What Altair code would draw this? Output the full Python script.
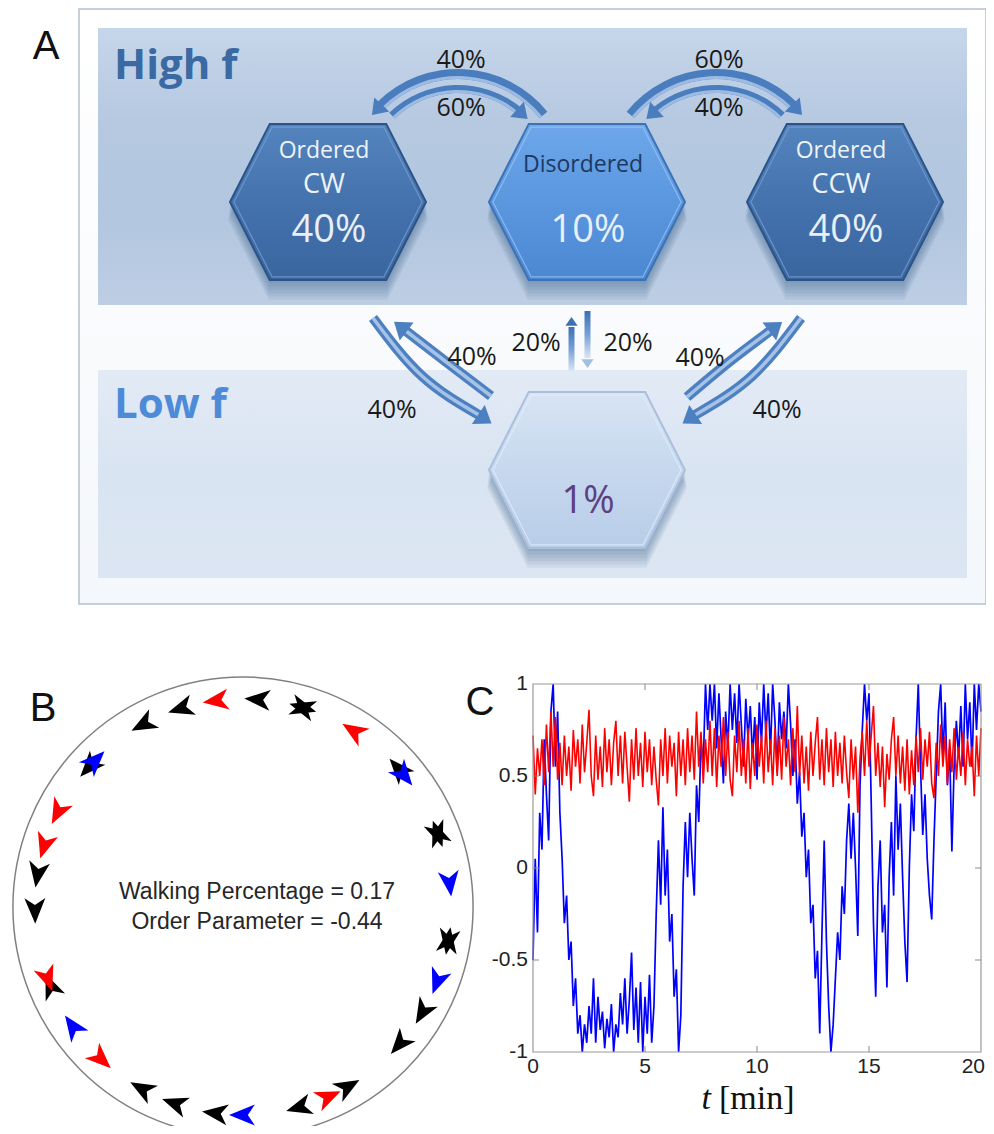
import math
import altair as alt
import pandas as pd

# ======================= DATA =======================
# Panel A - states and their occupancy
state_key = ["cw", "dis", "ccw", "low"]
state_line1 = ["Ordered", "Disordered", "Ordered", ""]
state_line2 = ["CW", "", "CCW", ""]
state_pct = ["40%", "10%", "40%", "1%"]
regime_names = ["High f", "Low f"]
# transitions inside High f: left pair (CW<->Dis), right pair (Dis<->CCW)
arc_outer_pct = ["40%", "60%"]
arc_inner_pct = ["60%", "40%"]
# transitions between High f and Low f, left to right
cross_pct = ["40%", "40%", "20%", "20%", "40%", "40%"]
panel_letters = ["A", "B", "C"]

# Panel B - agents on the ring: angular position (deg), colour, heading sense
agent_pos_deg = [118.5, 107.2, 97.3, 85.8, 73.3, 73.3, 57.7, 41.5, 39.5, 20.6,
                 20.6, 6.7, -9.4, -9.4, -20.8, -30.2, -41.0, -59.9, -65.9, -74.2,
                 -90.0, -97.5, -109.0, -118.9, -133.2, -144.8, -157.5, -160.0, -179.2, 170.8,
                 162.7, 152.7, 137.5, 135.5]
agent_color = ["black", "black", "red", "black", "black", "black", "red", "black", "blue", "black",
               "black", "blue", "black", "black", "blue", "black", "black", "black", "red", "black",
               "blue", "black", "black", "black", "red", "blue", "black", "red", "black", "black",
               "red", "red", "black", "blue"]
agent_dir = ["ccw", "ccw", "ccw", "ccw", "ccw", "cw", "ccw", "ccw", "cw", "ccw",
             "cw", "cw", "ccw", "cw", "cw", "cw", "cw", "ccw", "ccw", "cw",
             "cw", "cw", "cw", "cw", "ccw", "cw", "cw", "ccw", "ccw", "ccw",
             "ccw", "ccw", "ccw", "cw"]
walking_pct = 0.17
order_param = -0.44

# Panel C - time series sampled every 0.1 min
c_dt = 0.1
blue_vals = [
    -0.50, 0.05, -0.35, 0.30, 0.10, 0.70, 0.40, 0.15, 0.85, 1.00,
    0.55, 0.85, 0.30, 0.05, -0.30, -0.15, -0.50, -0.40, -0.75, -0.60,
    -0.90, -0.80, -1.00, -0.85, -0.95, -0.75, -0.90, -0.60, -0.95, -0.70,
    -0.88, -0.78, -0.98, -0.82, -0.92, -0.74, -1.00, -0.85, -0.92, -0.68,
    -0.85, -0.60, -0.90, -0.72, -0.46, -0.88, -0.65, -0.95, -0.62, -1.00,
    -0.70, -0.90, -0.58, -0.95, -0.75, -0.25, 0.15, -0.20, 0.33, -0.15,
    0.10, -0.40, -0.25, -0.70, -0.55, -1.00, -0.80, -0.10, 0.25, -0.05,
    0.30, 0.05, -0.15, 0.45, 0.25, 0.70, 0.55, 1.00, 0.75, 1.00,
    0.80, 1.00, 0.65, 0.95, 0.70, 0.46, 0.85, 0.65, 1.00, 0.75,
    0.95, 0.68, 1.00, 0.78, 0.55, 0.92, 0.70, 0.88, 0.60, 0.82,
    0.48, 0.90, 0.68, 1.00, 0.72, 0.95, 0.62, 1.00, 0.80, 0.52,
    0.90, 0.70, 0.85, 0.65, 1.00, 0.78, 0.50, 0.70, 0.35, 0.52,
    0.17, 0.30, -0.05, 0.10, -0.30, -0.20, -0.60, -0.45, -0.90, -0.35,
    0.15, -0.40, -0.75, -1.00, -0.85, -0.60, -0.35, -0.50, -0.10, -0.25,
    0.15, 0.35, 0.05, 0.30, 0.00, -0.37, 0.45, 0.75, 1.00, 0.80,
    0.95, 0.35, -0.30, -0.70, -0.10, 0.15, -0.35, -0.20, -0.65, -0.05,
    0.25, -0.15, 0.50, 0.10, 0.35, -0.05, -0.40, -0.62, 0.00, 0.40,
    0.20, 0.70, 1.00, 0.55, 0.18, 0.40, 0.05, -0.15, -0.28, 0.15,
    0.50, 0.85, 1.00, 0.60, 0.90, 0.45, 0.65, 0.09, 0.55, 0.80,
    0.60, 0.88, 0.55, 1.00, 0.70, 0.90, 0.55, 1.00, 0.75, 1.00,
    0.85]
red_vals = [
    0.72, 0.40, 0.65, 0.50, 0.70, 0.45, 0.78, 0.52, 0.85, 0.55,
    0.82, 0.48, 0.68, 0.45, 0.72, 0.50, 0.66, 0.42, 0.75, 0.55,
    0.70, 0.46, 0.78, 0.52, 0.68, 0.86, 0.50, 0.39, 0.72, 0.48,
    0.66, 0.44, 0.76, 0.52, 0.70, 0.45, 0.68, 0.80, 0.50, 0.72,
    0.46, 0.74, 0.55, 0.36, 0.70, 0.48, 0.76, 0.50, 0.68, 0.44,
    0.74, 0.52, 0.70, 0.45, 0.66, 0.48, 0.34, 0.70, 0.50, 0.76,
    0.46, 0.72, 0.55, 0.68, 0.39, 0.74, 0.50, 0.70, 0.45, 0.76,
    0.52, 0.72, 0.48, 0.85, 0.55, 0.74, 0.46, 0.70, 0.52, 0.80,
    0.50, 0.76, 0.44, 0.72, 0.55, 0.82, 0.50, 0.74, 0.48, 0.39,
    0.72, 0.52, 0.80, 0.50, 0.70, 0.46, 0.76, 0.43, 0.68, 0.50,
    0.78, 0.55, 0.72, 0.46, 0.80, 0.52, 0.70, 0.45, 0.76, 0.50,
    0.72, 0.48, 0.82, 0.55, 0.70, 0.45, 0.76, 0.52, 0.88, 0.50,
    0.72, 0.46, 0.66, 0.42, 0.74, 0.50, 0.68, 0.82, 0.48, 0.70,
    0.45, 0.76, 0.52, 0.70, 0.44, 0.74, 0.50, 0.68, 0.46, 0.72,
    0.52, 0.38, 0.70, 0.48, 0.66, 0.30, 0.60, 0.74, 0.50, 0.80,
    0.55, 0.72, 0.88, 0.50, 0.68, 0.44, 0.66, 0.33, 0.62, 0.48,
    0.70, 0.82, 0.50, 0.72, 0.46, 0.66, 0.42, 0.70, 0.40, 0.64,
    0.45, 0.72, 0.52, 0.76, 0.48, 0.70, 0.55, 0.74, 0.46, 0.38,
    0.68, 0.50, 0.78, 0.55, 0.72, 0.46, 0.70, 0.52, 0.76, 0.48,
    0.66, 0.50, 0.74, 0.45, 0.70, 0.55, 0.66, 0.39, 0.72, 0.50,
    0.76]
c_xticks = [0, 5, 10, 15, 20]
c_yticks = [1, 0.5, 0, -0.5, -1]
c_xtitle = ["t", "[min]"]

# ======================= LAYOUT / STYLE (page pixels) =======================
PAD = 8
W, H = 978, 1118
SX = alt.Scale(domain=[PAD, PAD + W], range=[0, W])
SY = alt.Scale(domain=[PAD, PAD + H], range=[0, H])
FONT = "Open Sans"
SANS = "Liberation Sans"
SERIF = "Liberation Serif"
COLORS = {"black": "#000000", "red": "#ff0000", "blue": "#0000ff"}

NODE_XY = {"cw": (328, 202), "dis": (587, 202), "ccw": (845, 202), "low": (587, 470)}
HEX_HALF = 98
HEX = "M-1,0L-0.594,-0.797L0.594,-0.797L1,0L0.594,0.797L-0.594,0.797Z"
LINE1_DY = {"cw": -51, "dis": -37, "ccw": -51, "low": 0}
LINE2_DY = -17
PCT_DY = {"cw": 29, "dis": 29, "ccw": 29, "low": 32}

ARC_C = [(458, 184), (716, 184)]
OUTER_R = (105, 115)
INNER_R = (91, 99)
ARC_OUTER = [(-44.5, 51, -47), (-51, 44.5, 47)]
ARC_INNER = [(-44, 39.5, 42), (-39.5, 44, -42)]
ARC_LABEL_Y = (60, 108)
HEAD = "M0,-0.8L1,0.6L-1,0.6Z"

DIAG = [
    [(373, 318), (422, 376), (479, 415)],
    [(491, 396), (445, 361), (406, 331)],
    [(687, 397), (729, 362), (770, 331)],
    [(801, 318), (752, 376), (695, 415)],
]
VERT = [(571.5, 371, 327), (587.5, 311, 358)]
CROSS_XY = [(392, 410), (472, 357), (536, 343), (628, 343), (700, 358), (777, 410)]
REGIME_XY = [(114, 66), (114, 405)]
REGIME_COL = ["#3a69a3", "#4d8bd8"]
LETTER_XY = [(46, 47), (43, 709), (480, 703)]

RING_C = (243, 907)
RING_R = 230
AGENT_R = 208
DART = "M0,-1L0.75,0.85L0,0.35L-0.75,0.85Z"
B_TEXT_XY = [(257, 892), (257, 922)]

CX = alt.Scale(domain=[0, 20], range=[533 - PAD, 981 - PAD])
CY = alt.Scale(domain=[-1, 1], range=[1052 - PAD, 684 - PAD])
XTITLE_XY = [(711, 1099), (719, 1099)]


def vgrad(*cols):
    n = len(cols) - 1
    return {"gradient": "linear", "x1": 0, "y1": 0, "x2": 0, "y2": 1,
            "stops": [{"offset": i / n, "color": c} for i, c in enumerate(cols)]}


def XY():
    return dict(x=alt.X("x:Q", scale=SX, axis=None), y=alt.Y("y:Q", scale=SY, axis=None))


def rect(rows, **mark):
    df = pd.DataFrame(rows, columns=["x", "y", "x2", "y2"])
    return alt.Chart(df).mark_rect(**mark).encode(**XY(), x2="x2:Q", y2="y2:Q")


def texts(rows, **mark):
    df = pd.DataFrame(rows)
    enc = XY()
    enc["text"] = alt.Text("txt:N")
    if "col" in df.columns:
        enc["color"] = alt.Color("col:N", scale=None)
    return alt.Chart(df).mark_text(**mark).encode(**enc)


def symbols(df, filled=True, **mark):
    enc = XY()
    if "hd" in df.columns:
        enc["angle"] = alt.Angle("hd:Q", scale=None)
    if "col" in df.columns:
        enc["color"] = alt.Color("col:N", scale=None)
    return alt.Chart(df).mark_point(filled=filled, opacity=1, **mark).encode(**enc)


def arcs(df, **mark):
    return alt.Chart(df).mark_arc(**mark).encode(
        **XY(),
        theta=alt.Theta("th:Q", scale=None, stack=False), theta2=alt.Theta2("th2:Q"),
        radius=alt.Radius("ro:Q", scale=None), radius2=alt.Radius2("ri:Q"))


L = []
# ---- Panel A background ----
L.append(rect([(79, 9, 986, 604)], fill=vgrad("#ffffff", "#f4f7fb"), stroke="#b4c1d0", strokeWidth=1.5))
L.append(rect([(98, 28, 967, 305)], fill=vgrad("#c6d6ea", "#b6c9e1", "#b2c6df", "#bdcee4")))
L.append(rect([(98, 370, 967, 578)], fill=vgrad("#e2eaf5", "#d9e4f2", "#dce6f3")))

hex_df = pd.DataFrame({"key": state_key,
                       "x": [NODE_XY[k][0] for k in state_key],
                       "y": [NODE_XY[k][1] for k in state_key]})
for dy in [18, 15, 12, 9, 6, 3]:
    L.append(symbols(hex_df.assign(y=hex_df.y + dy), shape=HEX, color="#1e4676",
                     size=(2 * HEX_HALF * (1 + dy / 900)) ** 2, strokeWidth=0, fillOpacity=0.07))
hex_style = {
    "cw": dict(fill=vgrad("#5484be", "#4472ad", "#3a669f"), stroke="#2b5387"),
    "dis": dict(fill=vgrad("#6ea7ea", "#5a97df", "#4c88d2"), stroke="#3c72b6"),
    "ccw": dict(fill=vgrad("#5484be", "#4472ad", "#3a669f"), stroke="#2b5387"),
    "low": dict(fill=vgrad("#d8e4f4", "#c6d8ee", "#b8cde8"), stroke="#a9bfde"),
}
bevel = {"cw": "#7ea3d3", "dis": "#a3c8f3", "ccw": "#7ea3d3", "low": "#e6eef9"}
for k in state_key:
    sub = hex_df[hex_df.key == k]
    L.append(symbols(sub, shape=HEX, size=(2 * HEX_HALF) ** 2, strokeWidth=2, **hex_style[k]))
    L.append(symbols(sub, filled=False, shape=HEX, size=(2 * HEX_HALF - 8) ** 2, strokeWidth=1.2,
                     color=bevel[k], strokeOpacity=0.7))

r1, r2, rp = [], [], []
for k, l1, l2, p in zip(state_key, state_line1, state_line2, state_pct):
    x, y = NODE_XY[k]
    if l1:
        r1.append(dict(x=x - 4, y=y + LINE1_DY[k], txt=l1, col="#1c3963" if k == "dis" else "#eef3fa"))
    if l2:
        r2.append(dict(x=x - 4, y=y + LINE2_DY, txt=l2))
    rp.append(dict(x=x + 1, y=y + PCT_DY[k], txt=p, col="#5d4080" if k == "low" else "#e9eff8"))
L.append(texts(r1, font=FONT, fontSize=23))
L.append(texts(r2, font=FONT, fontSize=27, color="#eef3fa"))
L.append(texts(rp, font=FONT, fontSize=38))

# ---- arcs inside High f ----
for spec, rad in [(ARC_OUTER, OUTER_R), (ARC_INNER, INNER_R)]:
    body, stripe, heads = [], [], []
    for (cx, cy), (a0, a1, ah) in zip(ARC_C, spec):
        body.append(dict(x=cx, y=cy, th=math.radians(a0 + 360), th2=math.radians(a1 + 360), ro=rad[1], ri=rad[0]))
        stripe.append(dict(x=cx, y=cy, th=math.radians(a0 + 360), th2=math.radians(a1 + 360), ro=rad[0] + 3, ri=rad[0]))
        rm = (rad[0] + rad[1]) / 2
        a = math.radians(ah)
        heads.append(dict(x=cx + rm * math.sin(a), y=cy - rm * math.cos(a),
                          hd=(ah - 90) % 360 if ah < 0 else (ah + 90) % 360))
    L.append(arcs(pd.DataFrame(body), color="#4a7dbd"))
    L.append(arcs(pd.DataFrame(stripe), color="#9dbbe2"))
    L.append(symbols(pd.DataFrame(heads), shape=HEAD, size=420, color="#4a7dbd", strokeWidth=0))

# ---- diagonal arrows between regimes ----
drows, dheads = [], []
for i, pts in enumerate(DIAG):
    for j, (x, y) in enumerate(pts):
        drows.append(dict(id=i, o=j, x=x, y=y))
    (mx, my), (ex, ey) = pts[1], pts[2]
    dx, dy = ex - mx, ey - my
    n = math.hypot(dx, dy)
    dheads.append(dict(x=ex + 6 * dx / n, y=ey + 6 * dy / n,
                       hd=math.degrees(math.atan2(dx, -dy)) % 360))
ddf = pd.DataFrame(drows)
for sw, col in [(10, "#4d80c0"), (3.5, "#a6c2e6")]:
    L.append(alt.Chart(ddf).mark_line(interpolate="natural", strokeWidth=sw, color=col, strokeCap="butt").encode(
        **XY(), detail="id:N", order="o:Q"))
L.append(symbols(pd.DataFrame(dheads), shape=HEAD, size=520, color="#4d80c0", strokeWidth=0))

# ---- vertical arrows ----
vh = []
for (x, y0, y1) in VERT:
    L.append(rect([(x - 3, min(y0, y1), x + 3, max(y0, y1))], fill=vgrad("#3c71b4", "#77a0d6", "#dbe6f3")))
    up = y1 < y0
    vh.append(dict(x=x, y=y1 - 5 if up else y1 + 5, hd=0 if up else 180, col="#3c71b4" if up else "#a3bde2"))
L.append(symbols(pd.DataFrame(vh), shape=HEAD, size=150, strokeWidth=0))

# ---- percentage labels ----
lab = []
for (cx, cy), po, pi in zip(ARC_C, arc_outer_pct, arc_inner_pct):
    lab.append(dict(x=cx + 3, y=ARC_LABEL_Y[0], txt=po))
    lab.append(dict(x=cx + 3, y=ARC_LABEL_Y[1], txt=pi))
for (x, y), p in zip(CROSS_XY, cross_pct):
    lab.append(dict(x=x, y=y, txt=p))
L.append(texts(lab, font=FONT, fontSize=25, color="#1a1a1a"))

L.append(texts([dict(x=x, y=y, txt=t, col=c) for (x, y), t, c in zip(REGIME_XY, regime_names, REGIME_COL)],
               font=FONT, fontSize=42, fontWeight="bold", align="left"))
L.append(texts([dict(x=x, y=y, txt=t) for (x, y), t in zip(LETTER_XY, panel_letters)],
               font=SANS, fontSize=40, color="#111111"))

# ---- Panel B ----
ring = pd.DataFrame([dict(x=RING_C[0], y=RING_C[1], th=0.0, th2=2 * math.pi, ro=RING_R, ri=0)])
L.append(arcs(ring, fillOpacity=0, stroke="#808080", strokeWidth=1.5))
arows = []
for p, c, d in zip(agent_pos_deg, agent_color, agent_dir):
    a = math.radians(p)
    arows.append(dict(x=RING_C[0] + AGENT_R * math.cos(a), y=RING_C[1] - AGENT_R * math.sin(a),
                      hd=(360 - p) % 360 if d == "ccw" else (180 - p) % 360, col=COLORS[c]))
L.append(symbols(pd.DataFrame(arows), shape=DART, size=780, strokeWidth=0))
btxt = [f"Walking Percentage = {walking_pct}", f"Order Parameter = {order_param}"]
L.append(texts([dict(x=x, y=y, txt=t) for (x, y), t in zip(B_TEXT_XY, btxt)],
               font=SANS, fontSize=23, color="#262626"))

# ---- Panel C axis title ----
L.append(texts([dict(x=XTITLE_XY[0][0], y=XTITLE_XY[0][1], txt=c_xtitle[0])],
               font=SERIF, fontSize=34, fontStyle="italic", align="right", color="#111111"))
L.append(texts([dict(x=XTITLE_XY[1][0], y=XTITLE_XY[1][1], txt=c_xtitle[1])],
               font=SERIF, fontSize=34, align="left", color="#111111"))

canvas = alt.layer(*L)

# ======================= Panel C plot =======================
blue_df = pd.DataFrame({"t": [i * c_dt for i in range(len(blue_vals))], "v": blue_vals})
red_df = pd.DataFrame({"t": [i * c_dt for i in range(len(red_vals))], "v": red_vals})


def CXY(tf="t", vf="v"):
    return dict(x=alt.X(f"{tf}:Q", scale=CX, axis=None), y=alt.Y(f"{vf}:Q", scale=CY, axis=None))


C = []
C.append(alt.Chart(blue_df).mark_line(color="#0000ff", strokeWidth=1.7).encode(**CXY()))
C.append(alt.Chart(red_df).mark_line(color="#ff0000", strokeWidth=1.6).encode(**CXY()))
frame = pd.DataFrame([dict(t=c_xticks[0], t2=c_xticks[-1], v=c_yticks[-1], v2=c_yticks[0])])
C.append(alt.Chart(frame).mark_rect(fillOpacity=0, stroke="#9a9a9a", strokeWidth=1.2).encode(
    **CXY(), x2="t2:Q", y2="v2:Q"))
inner_x = c_xticks[1:-1]
inner_y = c_yticks[1:-1]
C.append(alt.Chart(pd.DataFrame({"t": inner_x, "v": [-1] * len(inner_x)})).mark_tick(
    orient="vertical", size=6, thickness=1, color="#8a8a8a", yOffset=-3, opacity=1).encode(**CXY()))
C.append(alt.Chart(pd.DataFrame({"t": inner_x, "v": [1] * len(inner_x)})).mark_tick(
    orient="vertical", size=6, thickness=1, color="#8a8a8a", yOffset=3, opacity=1).encode(**CXY()))
C.append(alt.Chart(pd.DataFrame({"t": [0] * len(inner_y), "v": inner_y})).mark_tick(
    orient="horizontal", size=6, thickness=1, color="#8a8a8a", xOffset=3, opacity=1).encode(**CXY()))
C.append(alt.Chart(pd.DataFrame({"t": [20] * len(inner_y), "v": inner_y})).mark_tick(
    orient="horizontal", size=6, thickness=1, color="#8a8a8a", xOffset=-3, opacity=1).encode(**CXY()))
xl = pd.DataFrame({"t": c_xticks, "v": [-1] * len(c_xticks), "txt": [f"{v:g}" for v in c_xticks]})
# all tick labels centred on their tick except the last, which is kept inside the page edge
C.append(alt.Chart(xl.iloc[:-1]).mark_text(font=SANS, fontSize=21, color="#222222", dy=15).encode(
    **CXY(), text="txt:N"))
C.append(alt.Chart(xl.iloc[-1:]).mark_text(font=SANS, fontSize=21, color="#222222", dy=15, dx=4,
                                           align="right").encode(**CXY(), text="txt:N"))
yl = pd.DataFrame({"t": [0] * len(c_yticks), "v": c_yticks, "txt": [f"{v:g}" for v in c_yticks]})
C.append(alt.Chart(yl).mark_text(font=SANS, fontSize=21, color="#222222", align="right", dx=-5).encode(
    **CXY(), text="txt:N"))
panel_c = alt.layer(*C)

chart = alt.layer(canvas, panel_c).resolve_scale(x="independent", y="independent").properties(
    width=W, height=H, padding=0, autosize=alt.AutoSizeParams(type="none")
).configure_view(strokeWidth=0)

chart.save("out.html", embed_options={"renderer": "svg", "actions": False})
